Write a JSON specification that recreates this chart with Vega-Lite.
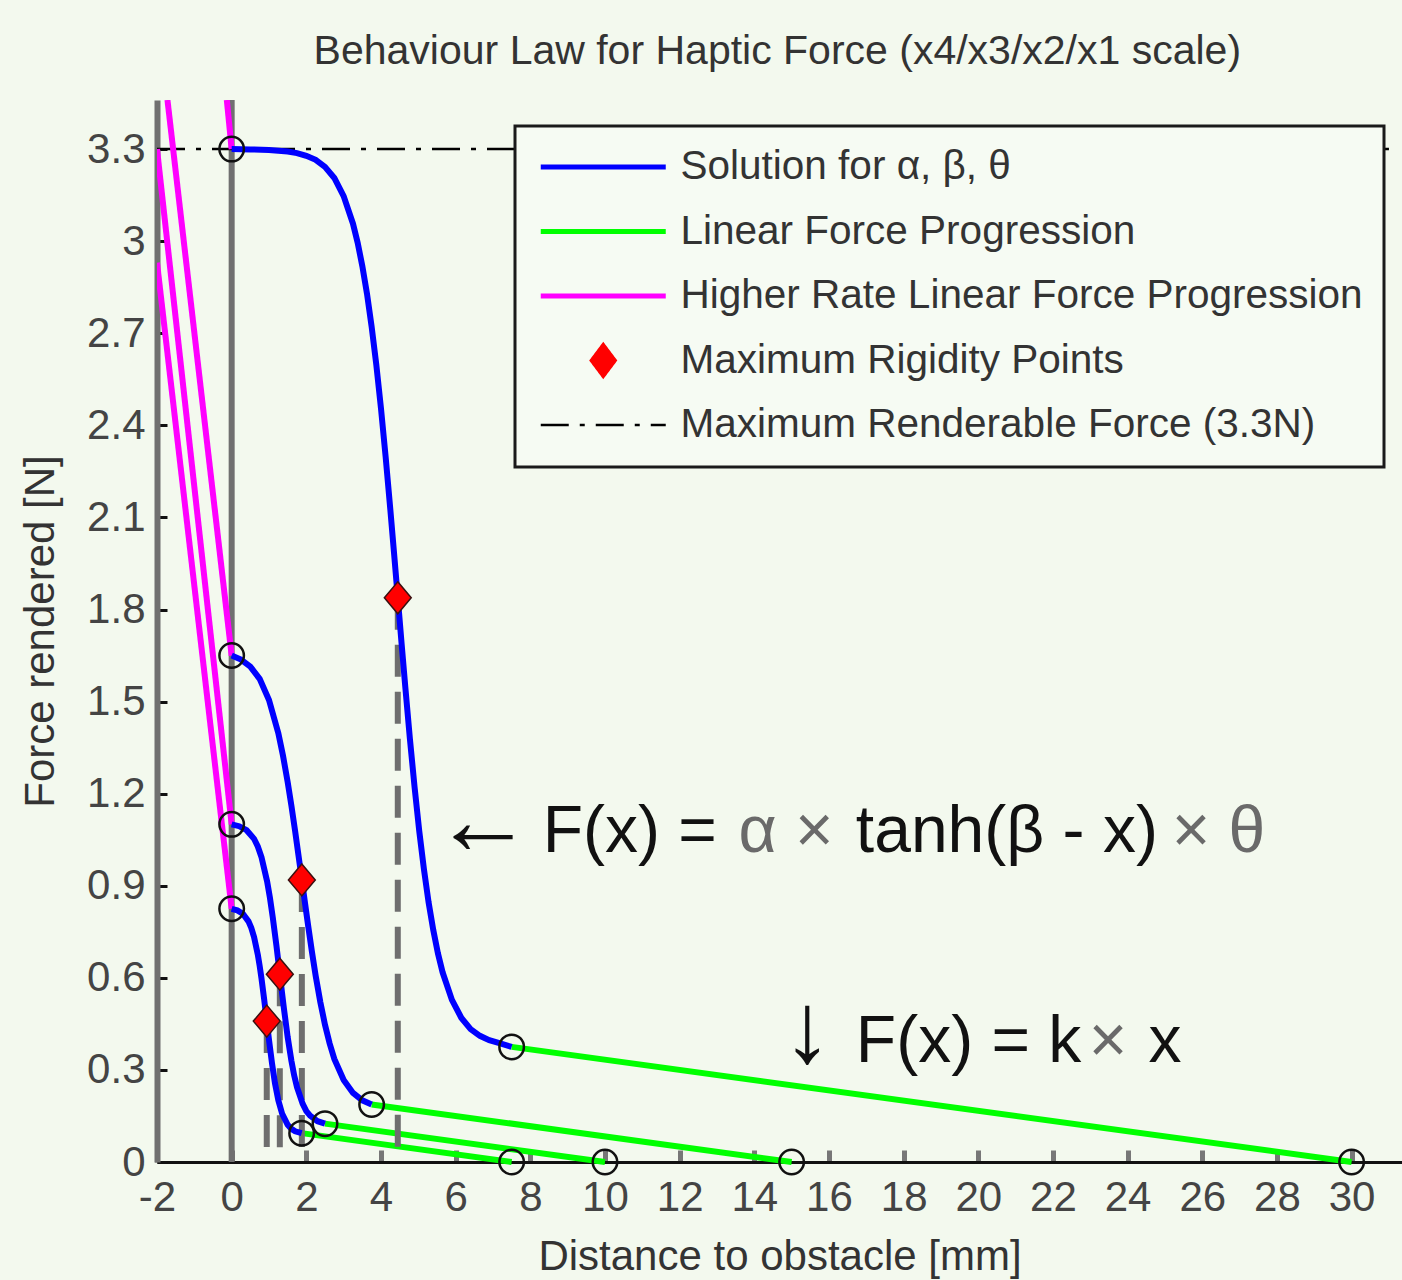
{
  "$schema": "https://vega.github.io/schema/vega-lite/v6.json",
  "width": 1245,
  "height": 1062,
  "autosize": {"type": "none"},
  "padding": {"left": 157, "top": 100, "right": 0, "bottom": 118},
  "background": "#f3f9ee",
  "title": {
    "text": "Behaviour Law for Haptic Force (x4/x3/x2/x1 scale)",
    "font": "Liberation Sans", "fontSize": 41, "fontWeight": "normal", "color": "#333333",
    "anchor": "start", "dx": 294, "baseline": "alphabetic", "offset": -8
  },
  "config": {
    "view": {"stroke": null},
    "font": "Liberation Sans"
  },
  "datasets": {
    "curves": [
      {"series": "Solution for α, β, θ", "curve": "c1", "x": 0, "y": 3.3},
      {"series": "Solution for α, β, θ", "curve": "c1", "x": 0.5, "y": 3.299},
      {"series": "Solution for α, β, θ", "curve": "c1", "x": 1, "y": 3.297},
      {"series": "Solution for α, β, θ", "curve": "c1", "x": 1.5, "y": 3.292},
      {"series": "Solution for α, β, θ", "curve": "c1", "x": 1.75, "y": 3.287},
      {"series": "Solution for α, β, θ", "curve": "c1", "x": 2, "y": 3.278},
      {"series": "Solution for α, β, θ", "curve": "c1", "x": 2.25, "y": 3.265},
      {"series": "Solution for α, β, θ", "curve": "c1", "x": 2.5, "y": 3.242},
      {"series": "Solution for α, β, θ", "curve": "c1", "x": 2.75, "y": 3.206},
      {"series": "Solution for α, β, θ", "curve": "c1", "x": 3, "y": 3.147},
      {"series": "Solution for α, β, θ", "curve": "c1", "x": 3.25, "y": 3.057},
      {"series": "Solution for α, β, θ", "curve": "c1", "x": 3.375, "y": 2.995},
      {"series": "Solution for α, β, θ", "curve": "c1", "x": 3.5, "y": 2.919},
      {"series": "Solution for α, β, θ", "curve": "c1", "x": 3.625, "y": 2.829},
      {"series": "Solution for α, β, θ", "curve": "c1", "x": 3.75, "y": 2.721},
      {"series": "Solution for α, β, θ", "curve": "c1", "x": 3.875, "y": 2.597},
      {"series": "Solution for α, β, θ", "curve": "c1", "x": 4, "y": 2.455},
      {"series": "Solution for α, β, θ", "curve": "c1", "x": 4.125, "y": 2.297},
      {"series": "Solution for α, β, θ", "curve": "c1", "x": 4.25, "y": 2.126},
      {"series": "Solution for α, β, θ", "curve": "c1", "x": 4.35, "y": 1.983},
      {"series": "Solution for α, β, θ", "curve": "c1", "x": 4.45, "y": 1.838},
      {"series": "Solution for α, β, θ", "curve": "c1", "x": 4.55, "y": 1.692},
      {"series": "Solution for α, β, θ", "curve": "c1", "x": 4.65, "y": 1.549},
      {"series": "Solution for α, β, θ", "curve": "c1", "x": 4.775, "y": 1.378},
      {"series": "Solution for α, β, θ", "curve": "c1", "x": 4.9, "y": 1.221},
      {"series": "Solution for α, β, θ", "curve": "c1", "x": 5.025, "y": 1.078},
      {"series": "Solution for α, β, θ", "curve": "c1", "x": 5.15, "y": 0.954},
      {"series": "Solution for α, β, θ", "curve": "c1", "x": 5.275, "y": 0.846},
      {"series": "Solution for α, β, θ", "curve": "c1", "x": 5.4, "y": 0.756},
      {"series": "Solution for α, β, θ", "curve": "c1", "x": 5.525, "y": 0.68},
      {"series": "Solution for α, β, θ", "curve": "c1", "x": 5.65, "y": 0.618},
      {"series": "Solution for α, β, θ", "curve": "c1", "x": 5.9, "y": 0.528},
      {"series": "Solution for α, β, θ", "curve": "c1", "x": 6.15, "y": 0.47},
      {"series": "Solution for α, β, θ", "curve": "c1", "x": 6.4, "y": 0.433},
      {"series": "Solution for α, β, θ", "curve": "c1", "x": 6.65, "y": 0.411},
      {"series": "Solution for α, β, θ", "curve": "c1", "x": 6.9, "y": 0.397},
      {"series": "Solution for α, β, θ", "curve": "c1", "x": 7.15, "y": 0.388},
      {"series": "Solution for α, β, θ", "curve": "c1", "x": 7.5, "y": 0.375},
      {"series": "Solution for α, β, θ", "curve": "c2", "x": 0, "y": 1.65},
      {"series": "Solution for α, β, θ", "curve": "c2", "x": 0.25, "y": 1.637},
      {"series": "Solution for α, β, θ", "curve": "c2", "x": 0.5, "y": 1.614},
      {"series": "Solution for α, β, θ", "curve": "c2", "x": 0.75, "y": 1.574},
      {"series": "Solution for α, β, θ", "curve": "c2", "x": 1, "y": 1.505},
      {"series": "Solution for α, β, θ", "curve": "c2", "x": 1.25, "y": 1.397},
      {"series": "Solution for α, β, θ", "curve": "c2", "x": 1.375, "y": 1.324},
      {"series": "Solution for α, β, θ", "curve": "c2", "x": 1.5, "y": 1.238},
      {"series": "Solution for α, β, θ", "curve": "c2", "x": 1.6, "y": 1.161},
      {"series": "Solution for α, β, θ", "curve": "c2", "x": 1.7, "y": 1.078},
      {"series": "Solution for α, β, θ", "curve": "c2", "x": 1.79, "y": 0.999},
      {"series": "Solution for α, β, θ", "curve": "c2", "x": 1.88, "y": 0.919},
      {"series": "Solution for α, β, θ", "curve": "c2", "x": 1.965, "y": 0.843},
      {"series": "Solution for α, β, θ", "curve": "c2", "x": 2.05, "y": 0.769},
      {"series": "Solution for α, β, θ", "curve": "c2", "x": 2.15, "y": 0.685},
      {"series": "Solution for α, β, θ", "curve": "c2", "x": 2.25, "y": 0.607},
      {"series": "Solution for α, β, θ", "curve": "c2", "x": 2.375, "y": 0.521},
      {"series": "Solution for α, β, θ", "curve": "c2", "x": 2.5, "y": 0.447},
      {"series": "Solution for α, β, θ", "curve": "c2", "x": 2.625, "y": 0.386},
      {"series": "Solution for α, β, θ", "curve": "c2", "x": 2.75, "y": 0.336},
      {"series": "Solution for α, β, θ", "curve": "c2", "x": 3, "y": 0.267},
      {"series": "Solution for α, β, θ", "curve": "c2", "x": 3.25, "y": 0.225},
      {"series": "Solution for α, β, θ", "curve": "c2", "x": 3.5, "y": 0.201},
      {"series": "Solution for α, β, θ", "curve": "c2", "x": 3.75, "y": 0.1875},
      {"series": "Solution for α, β, θ", "curve": "c3", "x": 0, "y": 1.1},
      {"series": "Solution for α, β, θ", "curve": "c3", "x": 0.2, "y": 1.094},
      {"series": "Solution for α, β, θ", "curve": "c3", "x": 0.4, "y": 1.081},
      {"series": "Solution for α, β, θ", "curve": "c3", "x": 0.6, "y": 1.053},
      {"series": "Solution for α, β, θ", "curve": "c3", "x": 0.7, "y": 1.028},
      {"series": "Solution for α, β, θ", "curve": "c3", "x": 0.8, "y": 0.993},
      {"series": "Solution for α, β, θ", "curve": "c3", "x": 0.95, "y": 0.914},
      {"series": "Solution for α, β, θ", "curve": "c3", "x": 1.025, "y": 0.861},
      {"series": "Solution for α, β, θ", "curve": "c3", "x": 1.1, "y": 0.798},
      {"series": "Solution for α, β, θ", "curve": "c3", "x": 1.2, "y": 0.704},
      {"series": "Solution for α, β, θ", "curve": "c3", "x": 1.29, "y": 0.612},
      {"series": "Solution for α, β, θ", "curve": "c3", "x": 1.345, "y": 0.555},
      {"series": "Solution for α, β, θ", "curve": "c3", "x": 1.4, "y": 0.5},
      {"series": "Solution for α, β, θ", "curve": "c3", "x": 1.5, "y": 0.407},
      {"series": "Solution for α, β, θ", "curve": "c3", "x": 1.6, "y": 0.33},
      {"series": "Solution for α, β, θ", "curve": "c3", "x": 1.675, "y": 0.282},
      {"series": "Solution for α, β, θ", "curve": "c3", "x": 1.75, "y": 0.244},
      {"series": "Solution for α, β, θ", "curve": "c3", "x": 1.9, "y": 0.19},
      {"series": "Solution for α, β, θ", "curve": "c3", "x": 2, "y": 0.166},
      {"series": "Solution for α, β, θ", "curve": "c3", "x": 2.1, "y": 0.151},
      {"series": "Solution for α, β, θ", "curve": "c3", "x": 2.3, "y": 0.133},
      {"series": "Solution for α, β, θ", "curve": "c3", "x": 2.5, "y": 0.125},
      {"series": "Solution for α, β, θ", "curve": "c4", "x": 0, "y": 0.825},
      {"series": "Solution for α, β, θ", "curve": "c4", "x": 0.15, "y": 0.82},
      {"series": "Solution for α, β, θ", "curve": "c4", "x": 0.3, "y": 0.809},
      {"series": "Solution for α, β, θ", "curve": "c4", "x": 0.45, "y": 0.784},
      {"series": "Solution for α, β, θ", "curve": "c4", "x": 0.525, "y": 0.763},
      {"series": "Solution for α, β, θ", "curve": "c4", "x": 0.6, "y": 0.733},
      {"series": "Solution for α, β, θ", "curve": "c4", "x": 0.7, "y": 0.676},
      {"series": "Solution for α, β, θ", "curve": "c4", "x": 0.75, "y": 0.639},
      {"series": "Solution for α, β, θ", "curve": "c4", "x": 0.8, "y": 0.597},
      {"series": "Solution for α, β, θ", "curve": "c4", "x": 0.87, "y": 0.531},
      {"series": "Solution for α, β, θ", "curve": "c4", "x": 0.94, "y": 0.459},
      {"series": "Solution for α, β, θ", "curve": "c4", "x": 1, "y": 0.398},
      {"series": "Solution for α, β, θ", "curve": "c4", "x": 1.08, "y": 0.322},
      {"series": "Solution for α, β, θ", "curve": "c4", "x": 1.16, "y": 0.257},
      {"series": "Solution for α, β, θ", "curve": "c4", "x": 1.25, "y": 0.201},
      {"series": "Solution for α, β, θ", "curve": "c4", "x": 1.35, "y": 0.158},
      {"series": "Solution for α, β, θ", "curve": "c4", "x": 1.5, "y": 0.121},
      {"series": "Solution for α, β, θ", "curve": "c4", "x": 1.6, "y": 0.108},
      {"series": "Solution for α, β, θ", "curve": "c4", "x": 1.7, "y": 0.1},
      {"series": "Solution for α, β, θ", "curve": "c4", "x": 1.875, "y": 0.094}
    ],
    "linear": [
      {"series": "Linear Force Progression", "curve": "c1", "x": 7.5, "y": 0.375},
      {"series": "Linear Force Progression", "curve": "c1", "x": 30, "y": 0},
      {"series": "Linear Force Progression", "curve": "c2", "x": 3.75, "y": 0.1875},
      {"series": "Linear Force Progression", "curve": "c2", "x": 15, "y": 0},
      {"series": "Linear Force Progression", "curve": "c3", "x": 2.5, "y": 0.125},
      {"series": "Linear Force Progression", "curve": "c3", "x": 10, "y": 0},
      {"series": "Linear Force Progression", "curve": "c4", "x": 1.875, "y": 0.094},
      {"series": "Linear Force Progression", "curve": "c4", "x": 7.5, "y": 0}
    ],
    "higher": [
      {"series": "Higher Rate Linear Force Progression", "curve": "c1", "x": -0.13, "y": 3.46},
      {"series": "Higher Rate Linear Force Progression", "curve": "c1", "x": 0, "y": 3.3},
      {"series": "Higher Rate Linear Force Progression", "curve": "c2", "x": -1.72, "y": 3.46},
      {"series": "Higher Rate Linear Force Progression", "curve": "c2", "x": 0, "y": 1.65},
      {"series": "Higher Rate Linear Force Progression", "curve": "c3", "x": -2, "y": 3.3},
      {"series": "Higher Rate Linear Force Progression", "curve": "c3", "x": 0, "y": 1.1},
      {"series": "Higher Rate Linear Force Progression", "curve": "c4", "x": -2, "y": 2.93},
      {"series": "Higher Rate Linear Force Progression", "curve": "c4", "x": 0, "y": 0.825}
    ],
    "rigidity": [
      {"series": "Maximum Rigidity Points", "curve": "c1", "x": 4.45, "y": 1.838},
      {"series": "Maximum Rigidity Points", "curve": "c2", "x": 1.88, "y": 0.919},
      {"series": "Maximum Rigidity Points", "curve": "c3", "x": 1.29, "y": 0.612},
      {"series": "Maximum Rigidity Points", "curve": "c4", "x": 0.94, "y": 0.459}
    ],
    "maxforce": [
      {"series": "Maximum Renderable Force (3.3N)", "x": -2, "y": 3.3},
      {"series": "Maximum Renderable Force (3.3N)", "x": 31, "y": 3.3}
    ],
    "markers": [
      {"x": 0, "y": 3.3}, {"x": 0, "y": 1.65}, {"x": 0, "y": 1.1}, {"x": 0, "y": 0.825},
      {"x": 7.5, "y": 0.375}, {"x": 3.75, "y": 0.1875}, {"x": 2.5, "y": 0.125}, {"x": 1.875, "y": 0.094},
      {"x": 30, "y": 0}, {"x": 15, "y": 0}, {"x": 10, "y": 0}, {"x": 7.5, "y": 0}
    ],
    "notes": [
      {"part": "arrow", "label": "←", "x": 5.4, "y": 1.004},
      {"part": "main", "label": "F(x) =", "x": 8.33, "y": 1.01},
      {"part": "greek", "label": "α ×", "x": 13.58, "y": 1.01},
      {"part": "main", "label": "tanh(β - x)", "x": 16.72, "y": 1.01},
      {"part": "greek", "label": "× θ", "x": 25.18, "y": 1.01},
      {"part": "arrow", "label": "↓", "x": 14.75, "y": 0.327},
      {"part": "main", "label": "F(x) = k", "x": 16.72, "y": 0.327},
      {"part": "greek", "label": "×", "x": 22.96, "y": 0.327},
      {"part": "main", "label": "x", "x": 24.56, "y": 0.327}
    ]
  },
  "encoding": {
    "x": {
      "type": "quantitative",
      "scale": {"domain": [-2, 31.35], "nice": false, "zero": false},
      "axis": {
        "values": [-2, 0, 2, 4, 6, 8, 10, 12, 14, 16, 18, 20, 22, 24, 26, 28, 30],
        "labelExpr": "replace(datum.label, '−', '-')",
        "title": "Distance to obstacle [mm]", "grid": false,
        "domainColor": "#111111", "domainWidth": 3,
        "tickColor": "#777777", "tickWidth": 5, "tickSize": -12,
        "labelFont": "Liberation Sans", "labelFontSize": 42, "labelColor": "#444444", "labelPadding": 27,
        "labelFlush": false, "labelOverlap": false,
        "titleFont": "Liberation Sans", "titleFontSize": 42, "titleFontWeight": "normal", "titleColor": "#333333", "titlePadding": 18
      }
    },
    "y": {
      "type": "quantitative",
      "scale": {"domain": [0, 3.46], "nice": false, "zero": false},
      "axis": {
        "values": [0, 0.3, 0.6, 0.9, 1.2, 1.5, 1.8, 2.1, 2.4, 2.7, 3, 3.3],
        "format": "~g",
        "title": "Force rendered [N]", "grid": false,
        "domainColor": "#707070", "domainWidth": 6,
        "tickColor": "#111111", "tickWidth": 3, "tickSize": -10,
        "labelFont": "Liberation Sans", "labelFontSize": 42, "labelColor": "#444444", "labelPadding": 22,
        "labelFlush": false, "labelOverlap": false,
        "titleFont": "Liberation Sans", "titleFontSize": 42, "titleFontWeight": "normal", "titleColor": "#333333", "titlePadding": 24
      }
    }
  },
  "layer": [
    {
      "data": {"values": [{"x": 0}]},
      "mark": {"type": "rule", "color": "#707070", "strokeWidth": 6},
      "encoding": {"x": {"field": "x", "type": "quantitative"}, "y": null}
    },
    {
      "data": {"name": "maxforce"},
      "mark": {"type": "line", "strokeWidth": 2.5, "strokeDash": [28, 11, 5, 11], "clip": true},
      "encoding": {
        "x": {"field": "x", "type": "quantitative"},
        "y": {"field": "y", "type": "quantitative"},
        "color": {
          "field": "series", "type": "nominal",
          "scale": {
            "domain": ["Solution for α, β, θ", "Linear Force Progression", "Higher Rate Linear Force Progression", "Maximum Rigidity Points", "Maximum Renderable Force (3.3N)"],
            "range": ["#0000ff", "#00ff00", "#ff00ff", "#ff0000", "#000000"]
          },
          "legend": {
            "title": null, "orient": "none", "legendX": 358, "legendY": 26,
            "padding": 21, "rowPadding": 23.5, "clipHeight": 40,
            "fillColor": "#f6fbf3", "strokeColor": "#1a1a1a",
            "labelFont": "Liberation Sans", "labelFontSize": 40.5, "labelColor": "#333333", "labelLimit": 1000, "labelOffset": 57,
            "symbolSize": 625, "symbolOffset": 47, "symbolStrokeWidth": 5,
            "encode": {
              "legend": {"update": {"strokeWidth": {"value": 3}}},
              "symbols": {
                "update": {
                  "shape": {"signal": "datum.value === 'Maximum Rigidity Points' ? 'M0,-1.4L1.05,0L0,1.4L-1.05,0Z' : 'M-5,0L5,0'"},
                  "size": {"value": 625},
                  "fill": {"signal": "datum.value === 'Maximum Rigidity Points' ? '#ff0000' : 'transparent'"},
                  "stroke": {"signal": "datum.value === 'Maximum Rigidity Points' ? '#3a1010' : scale('color', datum.value)"},
                  "strokeWidth": {"signal": "datum.value === 'Maximum Rigidity Points' ? 1.5 : (datum.value === 'Maximum Renderable Force (3.3N)' ? 2.5 : 5)"},
                  "strokeDash": {"signal": "datum.value === 'Maximum Renderable Force (3.3N)' ? [28, 11, 5, 11] : [1, 0]"},
                  "opacity": {"value": 1},
                  "fillOpacity": {"value": 1},
                  "strokeOpacity": {"value": 1}
                }
              }
            }
          }
        }
      }
    },
    {
      "data": {"name": "higher"},
      "mark": {"type": "line", "strokeWidth": 6, "clip": true},
      "encoding": {
        "x": {"field": "x", "type": "quantitative"},
        "y": {"field": "y", "type": "quantitative"},
        "detail": {"field": "curve"},
        "color": {"field": "series", "type": "nominal"}
      }
    },
    {
      "data": {"name": "linear"},
      "mark": {"type": "line", "strokeWidth": 6},
      "encoding": {
        "x": {"field": "x", "type": "quantitative"},
        "y": {"field": "y", "type": "quantitative"},
        "detail": {"field": "curve"},
        "color": {"field": "series", "type": "nominal"}
      }
    },
    {
      "data": {"name": "rigidity"},
      "mark": {"type": "rule", "color": "#6e6e6e", "strokeWidth": 6, "strokeDash": [32, 15]},
      "encoding": {
        "x": {"field": "x", "type": "quantitative"},
        "y": {"field": "y", "type": "quantitative"},
        "y2": {"datum": 0.04}
      }
    },
    {
      "data": {"name": "curves"},
      "mark": {"type": "line", "strokeWidth": 6},
      "encoding": {
        "x": {"field": "x", "type": "quantitative"},
        "y": {"field": "y", "type": "quantitative"},
        "detail": {"field": "curve"},
        "color": {"field": "series", "type": "nominal"}
      }
    },
    {
      "data": {"name": "markers"},
      "mark": {"type": "point", "shape": "circle", "size": 600, "filled": false, "stroke": "#111111", "strokeWidth": 2.5, "opacity": 1},
      "encoding": {
        "x": {"field": "x", "type": "quantitative"},
        "y": {"field": "y", "type": "quantitative"}
      }
    },
    {
      "data": {"name": "rigidity"},
      "mark": {"type": "point", "shape": "M0,-1L0.84,0L0,1L-0.84,0Z", "size": 1024, "filled": true, "stroke": "#3a1010", "strokeWidth": 1.5, "opacity": 1},
      "encoding": {
        "x": {"field": "x", "type": "quantitative"},
        "y": {"field": "y", "type": "quantitative"},
        "color": {"field": "series", "type": "nominal"}
      }
    },
    {
      "data": {"name": "notes"},
      "transform": [{"filter": "datum.part === 'arrow'"}],
      "mark": {"type": "text", "align": "left", "baseline": "alphabetic", "font": "Liberation Sans", "fontSize": 100, "color": "#111111"},
      "encoding": {
        "x": {"field": "x", "type": "quantitative"},
        "y": {"field": "y", "type": "quantitative"},
        "text": {"field": "label"}
      }
    },
    {
      "data": {"name": "notes"},
      "transform": [{"filter": "datum.part === 'main'"}],
      "mark": {"type": "text", "align": "left", "baseline": "alphabetic", "font": "Liberation Sans", "fontSize": 66, "color": "#111111"},
      "encoding": {
        "x": {"field": "x", "type": "quantitative"},
        "y": {"field": "y", "type": "quantitative"},
        "text": {"field": "label"}
      }
    },
    {
      "data": {"name": "notes"},
      "transform": [{"filter": "datum.part === 'greek'"}],
      "mark": {"type": "text", "align": "left", "baseline": "alphabetic", "font": "Liberation Sans", "fontSize": 66, "color": "#6a6a6a"},
      "encoding": {
        "x": {"field": "x", "type": "quantitative"},
        "y": {"field": "y", "type": "quantitative"},
        "text": {"field": "label"}
      }
    }
  ]
}
